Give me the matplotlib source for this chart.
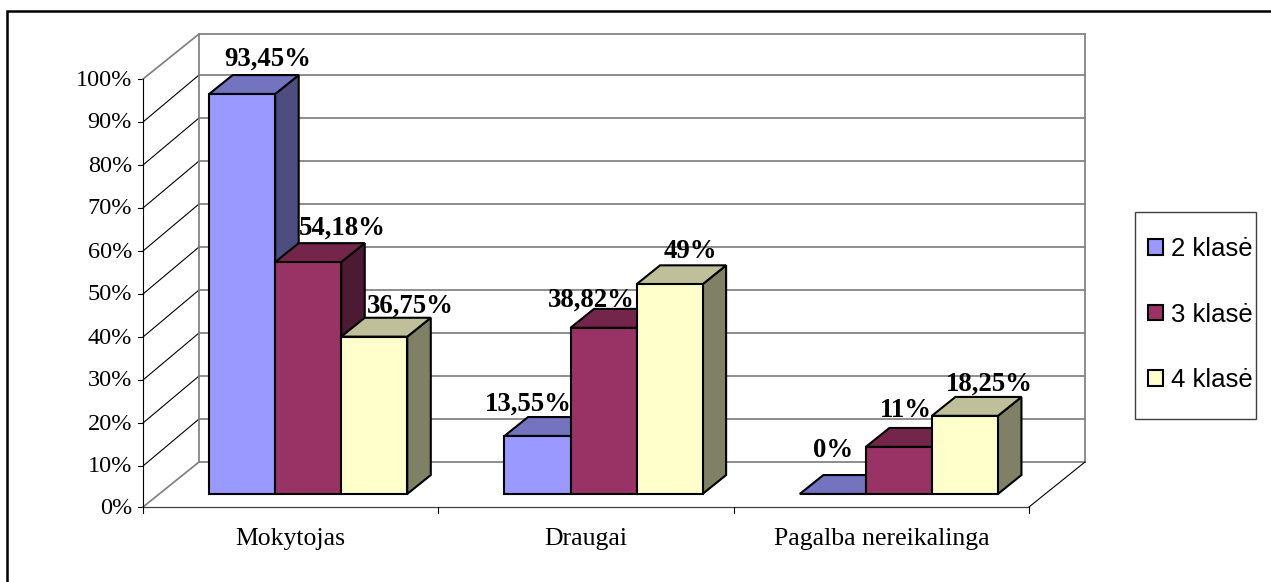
import matplotlib
matplotlib.use("Agg")
import matplotlib.pyplot as plt
from matplotlib.patches import Polygon, Rectangle, Patch

categories = ["Mokytojas", "Draugai", "Pagalba nereikalinga"]
series_names = ["2 klasė", "3 klasė", "4 klasė"]
values_2 = [93.45, 13.55, 0]
values_3 = [54.18, 38.82, 11]
values_4 = [36.75, 49, 18.25]
labels_2 = ["93,45%", "13,55%", "0%"]
labels_3 = ["54,18%", "38,82%", "11%"]
labels_4 = ["36,75%", "49%", "18,25%"]
y_ticks = list(range(0, 101, 10))

front_cols = ["#9999FF", "#993366", "#FFFFCC"]
top_cols = ["#7373BF", "#732649", "#BFBF99"]
side_cols = ["#4D4D80", "#4D1A33", "#808066"]
# label offsets (px) from bar's top-back centre, by series then category
label_dx = [[1.5, -33, -23], [10.5, -36, -17], [13, -2.5, 1]]
label_dy = [[-16, -13, -25], [-15, -9, -17], [-12, -14, -13]]

X0, Y0 = 143.0, 507.0
CAT_W = (1029 - 143) / 3
PX_PER_PCT = 4.28
GRID_PX_PER_PCT = 4.3
DX, DY = 56.0, 45.0
BAR_START, BAR_W = 0.169, 0.2236
D_FRONT, D_BACK = 0.29, 0.71


def proj(c, v, d=0.0):
    """Oblique projection for the bars: category, percent, depth -> pixels."""
    return (X0 + c * CAT_W + DX * d, Y0 - v * PX_PER_PCT - DY * d)


def wall(c, t, d):
    """Same projection for chart walls, where d is 0 (front) or 1 (back)."""
    x = X0 + c * CAT_W + DX * d
    if d == 0:
        y = 509 - t * GRID_PX_PER_PCT - (2 if t == 0 else 0)
    else:
        y = 462 - t * GRID_PX_PER_PCT + (2 if t == 100 else 0)
    return (x, y)


fig = plt.figure(figsize=(12.71, 5.82), dpi=100)
ax = fig.add_axes([0, 0, 1, 1])
ax.set_xlim(0, 1271)
ax.set_ylim(582, 0)
ax.axis("off")
ax.add_patch(Rectangle((0, 0), 1271, 582, fc="white", ec="none", zorder=0))
ax.add_patch(Rectangle((7, 11), 1300, 600, fc="white", ec="black", lw=1.8, zorder=0.5))

GRID = "#808080"
NC = len(categories)


def line(p, q, color="black", lw=0.8, z=1):
    ax.plot([p[0], q[0]], [p[1], q[1]], color=color, lw=lw, zorder=z,
            solid_capstyle="projecting")


for t in y_ticks:
    line(wall(0, t, 1), wall(NC, t, 1), GRID, 1.25)
    if t not in (0, 100):
        line(wall(0, t, 0), wall(0, t, 1), "black", 0.8)
    tx, ty = wall(0, t, 0)
    line((tx - 5, ty), (tx, ty), "black", 0.8)
    ax.text(tx - 11, ty + 1, f"{t}%", ha="right", va="center",
            family="Liberation Serif", fontsize=17.5, color="black")

line(wall(0, 0, 1), wall(0, 100, 1), GRID, 1.25)
line(wall(NC, 0, 1), wall(NC, 100, 1), GRID, 1.25)
line(wall(0, 100, 0), wall(0, 100, 1), GRID, 1.25)
line(wall(0, 0, 0), wall(0, 0, 1), GRID, 1.25)
line(wall(NC, 0, 0), wall(NC, 0, 1), "black", 0.8)
line(wall(0, 0, 0), wall(0, 100, 0), "black", 0.8)
line(wall(0, 0, 0), wall(NC, 0, 0), "#404040", 0.9)

for i in range(NC + 1):
    tx, ty = wall(i, 0, 0)
    line((tx, ty), (tx, ty + 6), "black", 0.8)

for i, name in enumerate(categories):
    tx, ty = wall(i + 0.5, 0, 0)
    ax.text(tx, ty + 32, name, ha="center", va="center",
            family="Liberation Serif", fontsize=18.5, color="black")

all_vals = [values_2, values_3, values_4]
all_lbls = [labels_2, labels_3, labels_4]
for c in range(NC):
    for s, vals in enumerate(all_vals):
        v = vals[c]
        x0 = c + BAR_START + s * BAR_W
        x1 = x0 + BAR_W
        z = 3 + c + s * 0.1
        kw = dict(ec="black", lw=1.5, joinstyle="miter", zorder=z)
        ax.add_patch(Polygon([proj(x1, 0, D_FRONT), proj(x1, 0, D_BACK),
                              proj(x1, v, D_BACK), proj(x1, v, D_FRONT)],
                             fc=side_cols[s], **kw))
        ax.add_patch(Polygon([proj(x0, v, D_FRONT), proj(x1, v, D_FRONT),
                              proj(x1, v, D_BACK), proj(x0, v, D_BACK)],
                             fc=top_cols[s], **kw))
        ax.add_patch(Polygon([proj(x0, 0, D_FRONT), proj(x1, 0, D_FRONT),
                              proj(x1, v, D_FRONT), proj(x0, v, D_FRONT)],
                             fc=front_cols[s], **kw))
        ax_, ay_ = proj((x0 + x1) / 2, v, D_BACK)
        ax.text(ax_ + label_dx[s][c], ay_ + label_dy[s][c], all_lbls[s][c],
                ha="center", va="center", family="Liberation Serif",
                fontweight="bold", fontsize=19.3, color="black", zorder=20)

ax.add_patch(Rectangle((1135, 212), 121, 207, fc="white", ec="#404040", lw=1.0, zorder=25))
handles = [Patch(fc=front_cols[i], ec="black", lw=1.5) for i in range(3)]
leg = ax.legend(handles, series_names, loc="upper left",
                bbox_to_anchor=(1148, 237), bbox_transform=ax.transData,
                borderaxespad=0, frameon=False, borderpad=0, labelspacing=1.62,
                handlelength=0.57, handleheight=0.57, handletextpad=0.32,
                prop={"family": "Liberation Sans", "size": 18.5})
leg.set_zorder(30)

fig.savefig("out.png", dpi=100)
